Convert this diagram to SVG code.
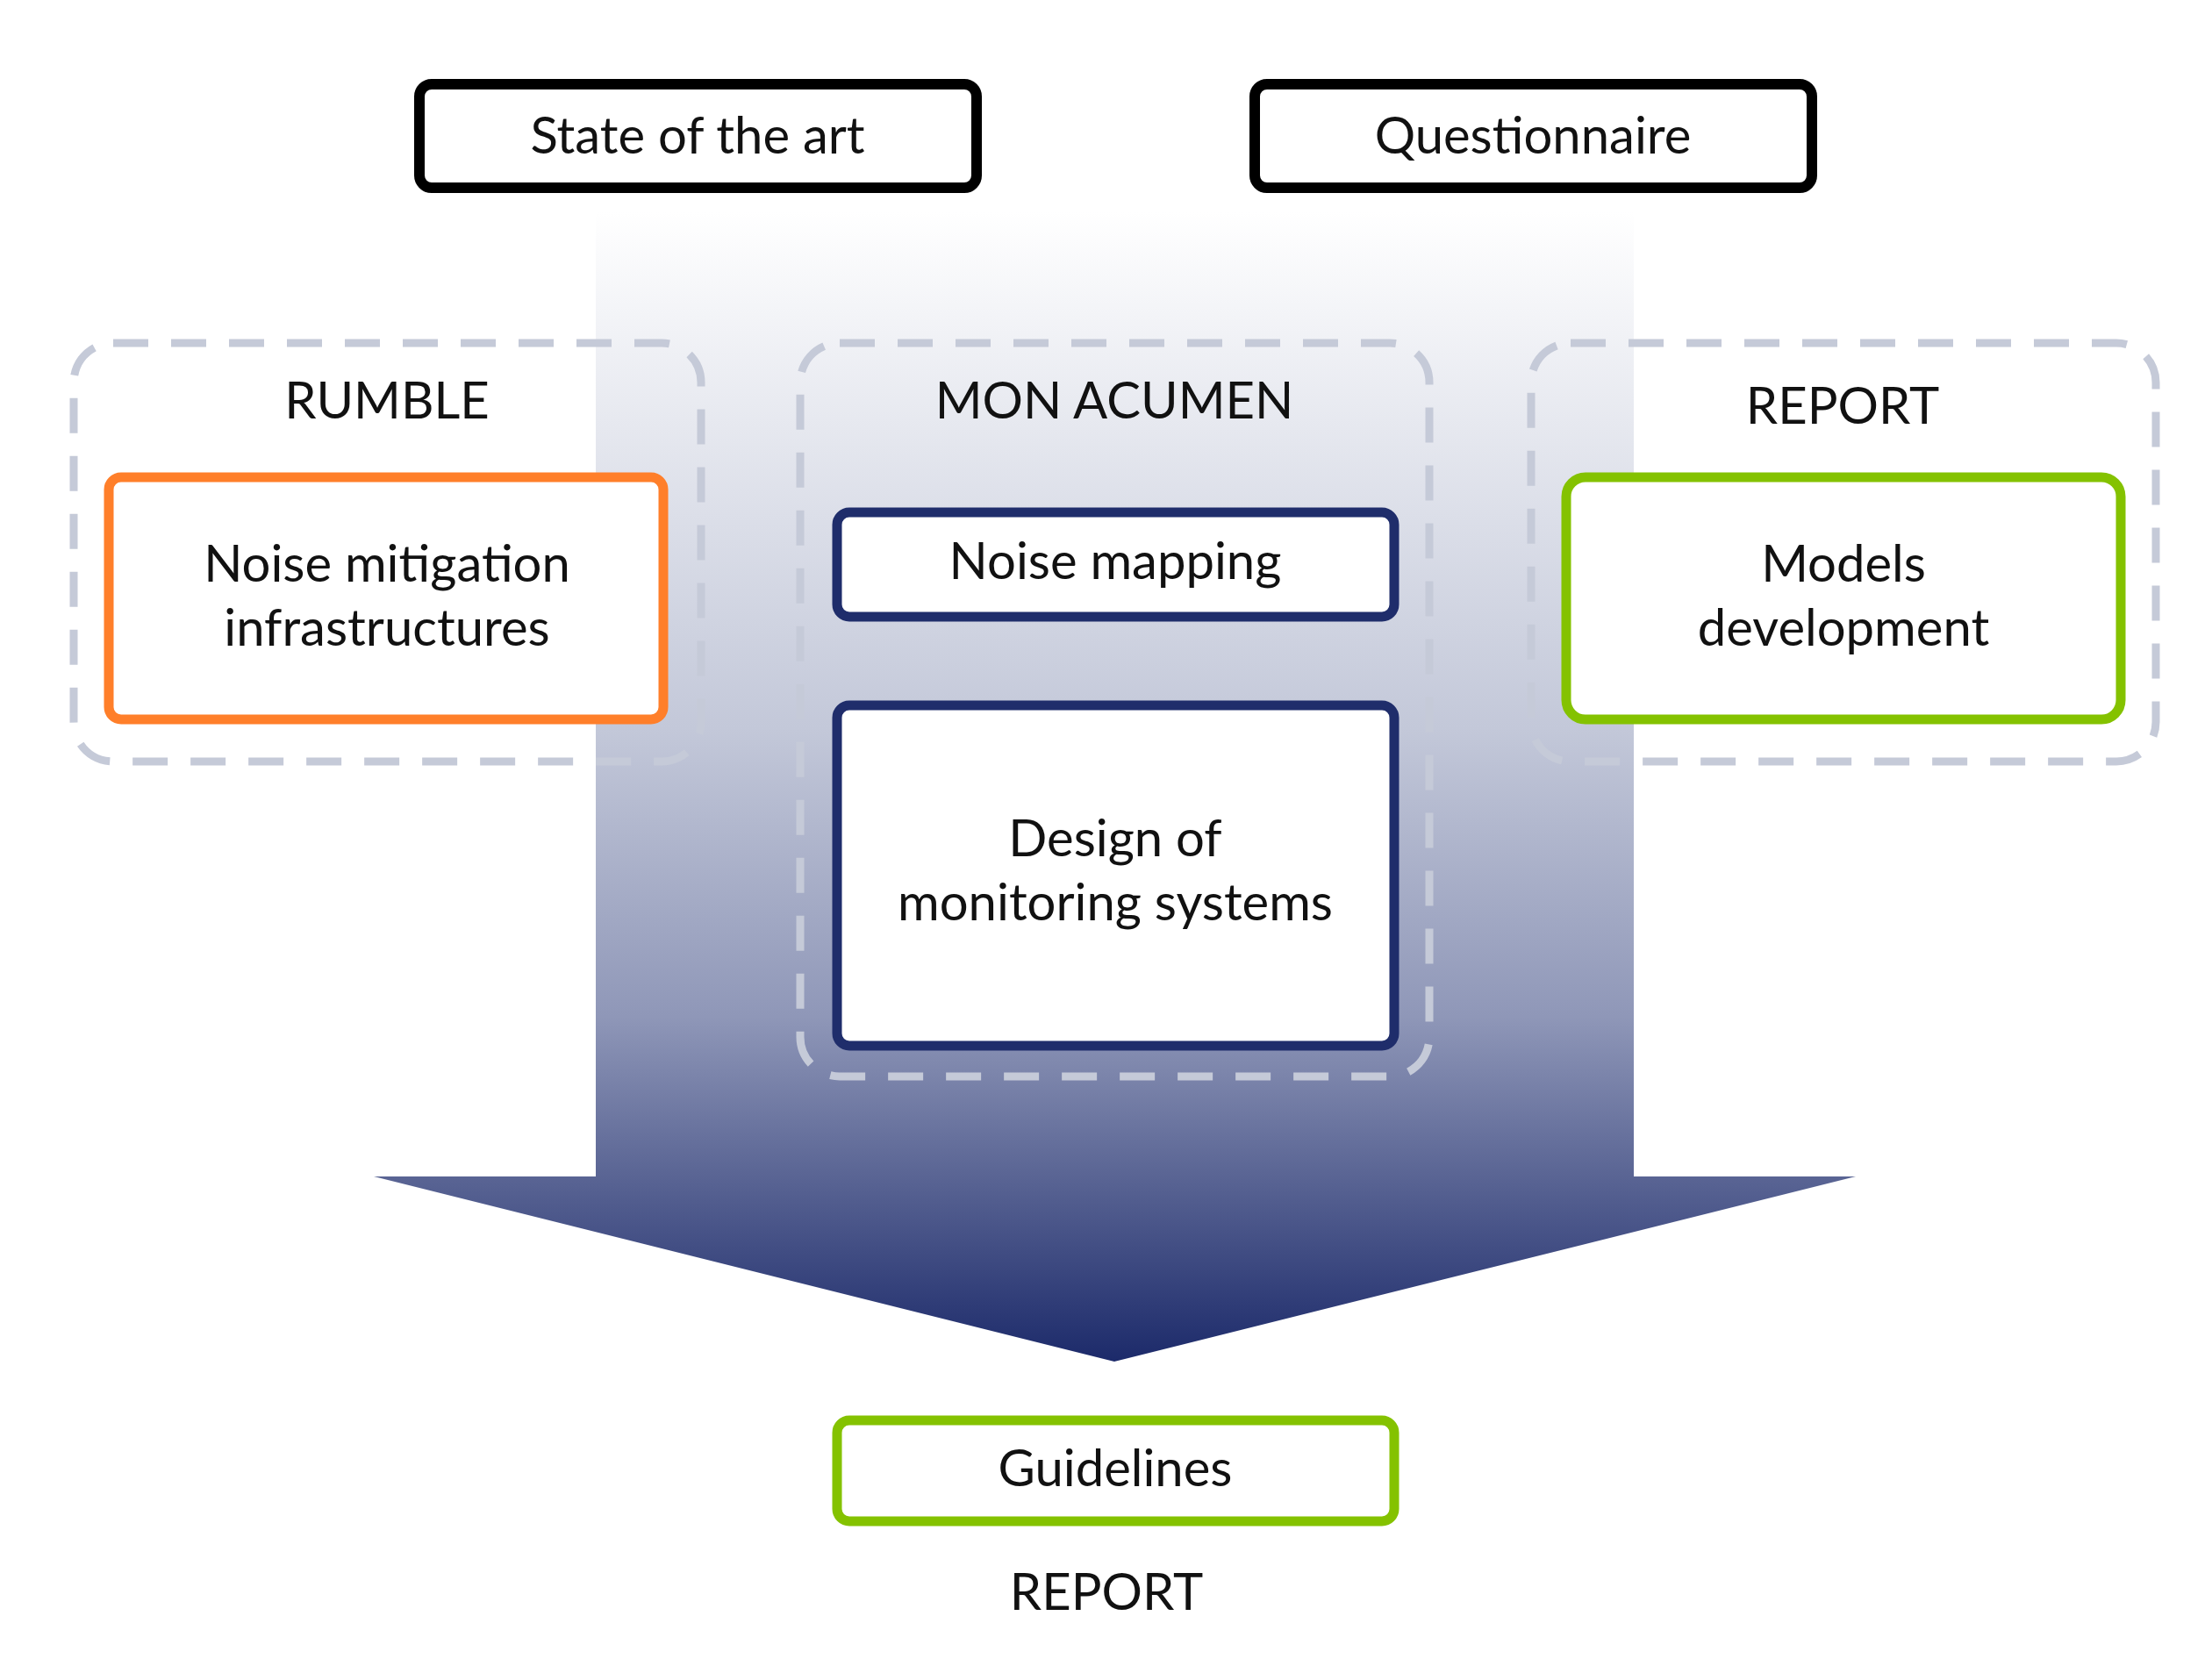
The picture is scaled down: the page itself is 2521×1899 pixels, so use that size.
<svg xmlns="http://www.w3.org/2000/svg" width="2521" height="1899" viewBox="0 0 2521 1899">
<style>
text{font-family:Lato,"Liberation Sans",sans-serif;font-size:58px;fill:#111;text-anchor:middle}
.blk{fill:#fff;stroke:#000;stroke-width:12}
.dash{fill:none;stroke:#c5cad8;stroke-width:9;stroke-dasharray:40 26}
.nav{fill:#fff;stroke:#1f2d6b;stroke-width:11}
.grn{fill:#fff;stroke:#84c200;stroke-width:11}
.org{fill:#fff;stroke:#ff7f2a;stroke-width:11}
</style>
<defs>
<linearGradient id="g" x1="0" y1="241" x2="0" y2="1552" gradientUnits="userSpaceOnUse">
<stop offset="0" stop-color="#ffffff"/>
<stop offset="0.45" stop-color="#c3c8d9"/>
<stop offset="0.7" stop-color="#8f97b8"/>
<stop offset="1" stop-color="#1c2a6a"/>
</linearGradient>
</defs>
<rect width="2521" height="1899" fill="#fff"/>
<g id="connectors">
<polygon points="679,241 1862,241 1862,1341 2115,1341 1270,1552 426,1341 679,1341" fill="url(#g)"/>
</g>
<g id="rumble"><rect class="dash" x="84" y="391" width="715" height="477" rx="45"/><text x="441" y="477">RUMBLE</text></g>
<g id="monacumen"><rect class="dash" x="912" y="391" width="717" height="836" rx="45"/><text x="1270" y="477">MON ACUMEN</text></g>
<g id="report1"><rect class="dash" x="1745" y="391" width="712" height="477" rx="45"/><text x="2100" y="483">REPORT</text></g>
<g id="stateart"><rect class="blk" x="478" y="96" width="635" height="118" rx="14"/><text x="795" y="175">State of the art</text></g>
<g id="questionnaire"><rect class="blk" x="1430" y="96" width="635" height="118" rx="14"/><text x="1747" y="175">Questionnaire</text></g>
<g id="noisemit"><rect class="org" x="124" y="544" width="632" height="276" rx="14"/><text x="441" y="663">Noise mitigation</text><text x="441" y="736">infrastructures</text></g>
<g id="noisemap"><rect class="nav" x="954" y="584" width="635" height="119" rx="14"/><text x="1271" y="660">Noise mapping</text></g>
<g id="design"><rect class="nav" x="954" y="804" width="635" height="388" rx="14"/><text x="1271" y="976">Design of</text><text x="1271" y="1049">monitoring systems</text></g>
<g id="models"><rect class="grn" x="1785" y="544" width="632" height="276" rx="22"/><text x="2101" y="663">Models</text><text x="2101" y="736">development</text></g>
<g id="guidelines"><rect class="grn" x="954" y="1619" width="635" height="115" rx="14"/><text x="1271" y="1694">Guidelines</text></g>
<g id="report2"><text x="1261" y="1835">REPORT</text></g>
</svg>
